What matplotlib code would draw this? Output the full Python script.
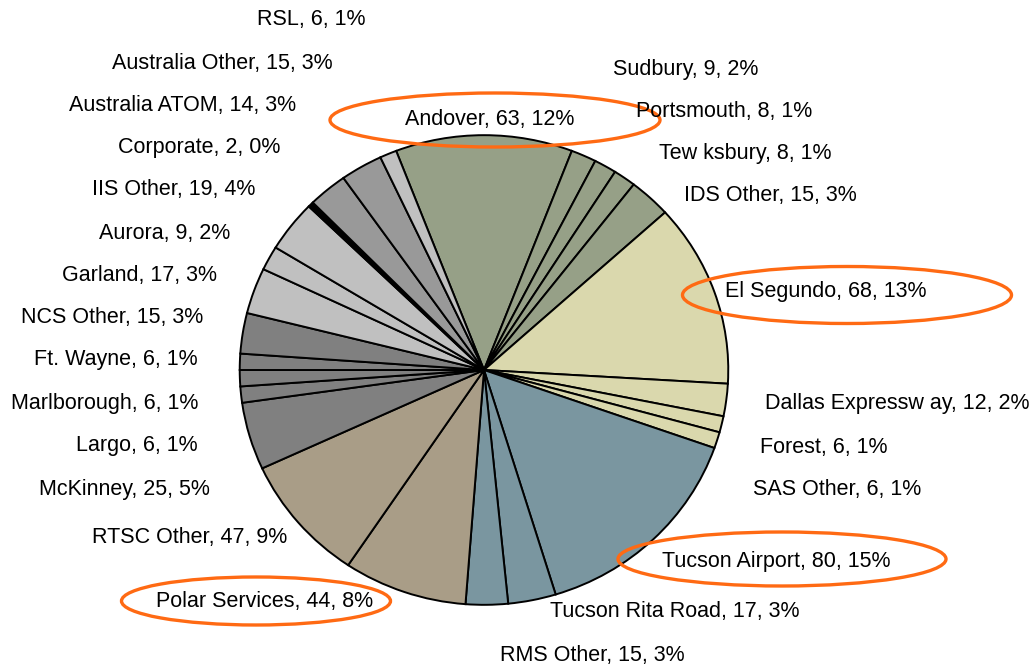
import matplotlib
matplotlib.use("Agg")
import matplotlib.pyplot as plt
from matplotlib.patches import Ellipse

# slices, clockwise starting at Andover
sites = [
    "Andover", "Sudbury", "Portsmouth", "Tew ksbury", "IDS Other",
    "El Segundo", "Dallas Expressw ay", "Forest", "SAS Other",
    "Tucson Airport", "Tucson Rita Road", "RMS Other",
    "Polar Services", "RTSC Other",
    "McKinney", "Largo", "Marlborough", "Ft. Wayne", "NCS Other",
    "Garland", "Aurora", "IIS Other",
    "Corporate",
    "Australia ATOM", "Australia Other",
    "RSL",
]
counts = [63, 9, 8, 8, 15,
          68, 12, 6, 6,
          80, 17, 15,
          44, 47,
          25, 6, 6, 6, 15,
          17, 9, 19,
          2,
          14, 15,
          6]
groups = ["IDS"] * 5 + ["SAS"] * 4 + ["RMS"] * 3 + ["RTSC"] * 2 + ["NCS"] * 5 \
    + ["IIS"] * 3 + ["CORP"] + ["AUS"] * 2 + ["RSL"]
highlighted = ["Andover", "El Segundo", "Tucson Airport", "Polar Services"]

GROUP_COLORS = {
    "IDS": "#96a087", "SAS": "#dad8ad", "RMS": "#7a96a0", "RTSC": "#a99d87",
    "NCS": "#808080", "IIS": "#c0c0c0", "CORP": "#000000", "AUS": "#999999",
    "RSL": "#c0c0c0",
}

# label centres in pixels (x from left, y from top)
label_pos = {
    "Andover": (490, 117), "Sudbury": (686, 67), "Portsmouth": (724, 110),
    "Tew ksbury": (745, 152), "IDS Other": (770, 194), "El Segundo": (826, 289),
    "Dallas Expressw ay": (897, 402), "Forest": (824, 445), "SAS Other": (837, 488),
    "Tucson Airport": (776, 560), "Tucson Rita Road": (675, 610),
    "RMS Other": (592, 654), "Polar Services": (265, 600), "RTSC Other": (190, 536),
    "McKinney": (124, 487), "Largo": (137, 443), "Marlborough": (105, 401),
    "Ft. Wayne": (116, 358), "NCS Other": (112, 316), "Garland": (139, 273),
    "Aurora": (165, 231), "IIS Other": (174, 188), "Corporate": (199, 146),
    "Australia ATOM": (183, 103), "Australia Other": (222, 61), "RSL": (311, 18),
}
ellipse_box = {
    "Andover": (495, 120, 330, 54), "El Segundo": (847, 295, 329, 57),
    "Tucson Airport": (782, 559, 328, 54), "Polar Services": (256, 601, 269, 48),
}

W, H = 1031, 665
CX, CY, RX, RY = 484, 370, 245.5, 236
FONT = "Liberation Sans"


def main():
    fig = plt.figure(figsize=(W / 100, H / 100), dpi=100, facecolor="white")

    ax = fig.add_axes([(CX - RX) / W, (H - CY - RY) / H, 2 * RX / W, 2 * RY / H])
    total = sum(counts)
    start = 90 + 360 * (counts[0] / total) / 2
    ax.pie(counts, colors=[GROUP_COLORS[g] for g in groups], startangle=start,
           counterclock=False, radius=1,
           wedgeprops=dict(edgecolor="black", linewidth=1.4))
    ax.set_aspect("auto")
    ax.set_xlim(-1.005, 1.005)
    ax.set_ylim(-1.005, 1.005)
    ax.axis("off")

    # overlay in pixel coords for labels and rings
    ov = fig.add_axes([0, 0, 1, 1], facecolor="none")
    ov.set_xlim(0, W)
    ov.set_ylim(H, 0)
    ov.axis("off")

    for name, n in zip(sites, counts):
        x, y = label_pos[name]
        ov.text(x, y + 2, f"{name}, {n}, {n / total * 100:.0f}%", ha="center",
                va="center", fontsize=15.5, family=FONT, color="black")

    for name in highlighted:
        x, y, w, h = ellipse_box[name]
        ov.add_patch(Ellipse((x, y), w, h, fill=False, edgecolor="#ff6a13",
                             linewidth=2.4))

    fig.savefig("out.png", dpi=100, facecolor="white")


if __name__ == "__main__":
    main()
